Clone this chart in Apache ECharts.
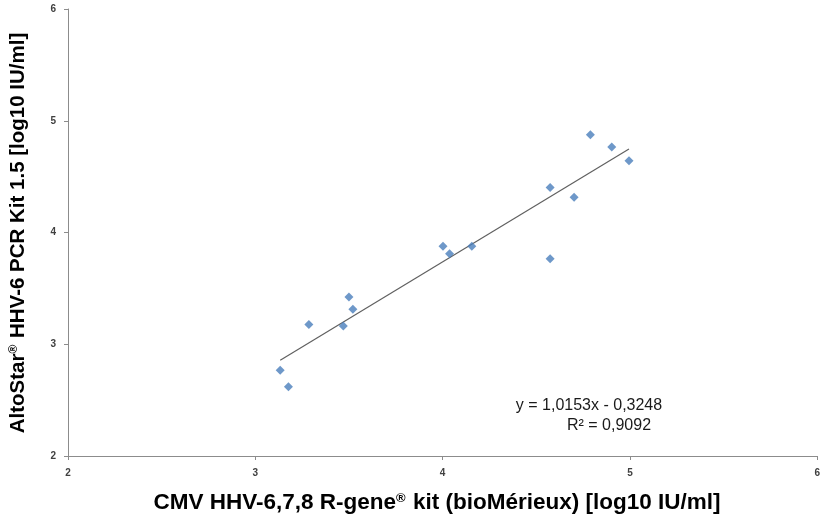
<!DOCTYPE html>
<html>
<head>
<meta charset="utf-8">
<script src="https://cdn.jsdelivr.net/npm/echarts@6/dist/echarts.min.js"></script>
<style>html,body{margin:0;padding:0;background:#fff}#c{width:823px;height:524px}</style>
</head>
<body>
<div id="c"></div>
<script>
const xValues = [3.133, 3.177, 3.286, 3.470, 3.500, 3.521, 4.002, 4.037, 4.156, 4.574, 4.574, 4.702, 4.789, 4.903, 4.995];
const yValues = [2.768, 2.619, 3.176, 3.163, 3.422, 3.313, 3.878, 3.810, 3.878, 4.402, 3.765, 4.315, 4.875, 4.765, 4.643];
const slope = 1.0153;
const intercept = -0.3248;
const eqText = 'y = 1,0153x - 0,3248';
const r2Text = 'R² = 0,9092';
const xTitle = 'CMV HHV-6,7,8 R-gene® kit (bioMérieux) [log10 IU/ml]';
const yTitle = 'AltoStar® HHV-6 PCR Kit 1.5 [log10 IU/ml]';

const points = xValues.map((x, i) => [x, yValues[i]]);
const xMin = Math.min(...xValues), xMax = Math.max(...xValues);
const trend = [[xMin, slope * xMin + intercept], [xMax, slope * xMax + intercept]];

function richTitle(t) {
  const parts = t.split('®');
  return parts.map(p => '{a|' + p + '}').join('{s|®}');
}
function rich(size) {
  return {
    a: {fontFamily: 'Liberation Sans, Arial', fontWeight: 'bold', fontSize: size, color: '#1a1a1a', lineHeight: size},
    s: {fontFamily: 'Liberation Sans, Arial', fontWeight: 'bold', fontSize: Math.round(size * 0.58), color: '#1a1a1a', verticalAlign: 'top', lineHeight: size, padding: [0, 1, 0, 0]}
  };
}

const chart = echarts.init(document.getElementById('c'), null, {renderer: 'canvas'});
const axisCommon = {
  min: 2, max: 6, interval: 1,
  splitLine: {show: false},
  axisLine: {show: true, lineStyle: {color: '#8c8c8c', width: 1}},
  axisTick: {show: true, length: 4, lineStyle: {color: '#8c8c8c'}},
  axisLabel: {color: '#404040', fontSize: 10, fontWeight: 'bold', fontFamily: 'Liberation Sans, Arial'}
};
chart.setOption({
  animation: false,
  backgroundColor: '#fff',
  grid: {left: 68, right: 3, top: 9, bottom: 68, containLabel: false},
  xAxis: Object.assign({type: 'value'}, axisCommon, {
    axisLabel: Object.assign({}, axisCommon.axisLabel, {margin: 12})
  }),
  yAxis: Object.assign({type: 'value'}, axisCommon, {
    axisLabel: Object.assign({}, axisCommon.axisLabel, {margin: 12})
  }),
  graphic: [
    {type: 'text', x: 437, y: 503, style: {text: richTitle(xTitle), rich: rich(22.5), align: 'center', verticalAlign: 'middle'}},
    {type: 'text', x: 18, y: 233, rotation: Math.PI / 2, style: {text: richTitle(yTitle), rich: rich(20.5), align: 'center', verticalAlign: 'middle'}},
    {type: 'text', x: 589, y: 398, style: {text: eqText, align: 'center', fontFamily: 'Liberation Sans, Arial', fontSize: 16, fill: '#1a1a1a'}},
    {type: 'text', x: 609, y: 418, style: {text: r2Text, align: 'center', fontFamily: 'Liberation Sans, Arial', fontSize: 16, fill: '#1a1a1a'}}
  ],
  series: [
    {type: 'line', data: trend, symbol: 'none', lineStyle: {color: '#606060', width: 1.2}, z: 1},
    {type: 'scatter', data: points, symbol: 'diamond', symbolSize: 9, itemStyle: {color: '#4a7ebb'}, z: 2}
  ]
});
</script>
</body>
</html>
